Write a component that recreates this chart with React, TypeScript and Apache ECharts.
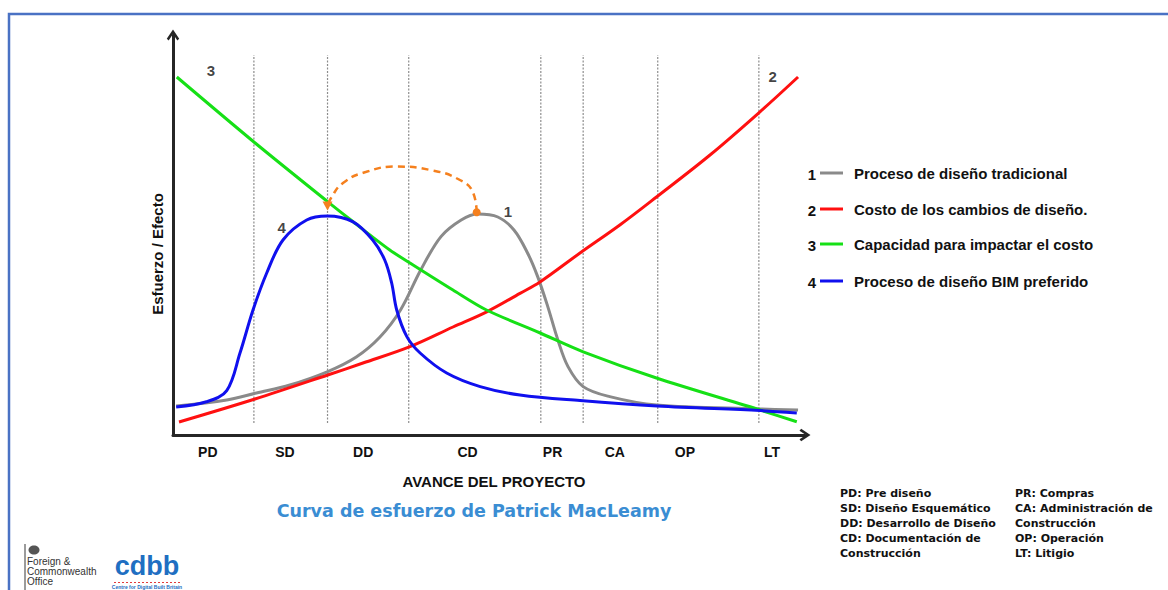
import React, { useEffect, useRef } from "react";
import * as echarts from "echarts";

// ---- Data (x: project progress 0-100, y: effort/effect 0-100) ----
const phaseLabels = ["PD", "SD", "DD", "CD", "PR", "CA", "OP", "LT"];
const phaseCenters = [5.5, 17.7, 30.1, 46.6, 60.05, 69.9, 81.0, 94.8];
const phaseBoundaries = [12.8, 24.45, 37.3, 58.2, 64.9, 76.7, 92.7];

const traditional: [number, number][] = [
  [0.5, 7.25], [8.5, 8.75], [13.2, 10.5], [18.5, 12.5], [24.4, 15.8], [29.0, 19.5],
  [32.75, 24.5], [36.0, 31.25], [39.2, 41.25], [42.4, 49.6], [45.6, 53.75], [48.2, 55.25],
  [51.4, 54.5], [53.95, 51.25], [56.1, 45.5], [57.7, 39.6], [59.3, 32.1], [60.9, 23.75],
  [62.5, 17.1], [64.9, 12.1], [69.1, 9.6], [76.5, 7.5], [92.9, 6.5], [98.9, 6.25],
];
const changeCost: [number, number][] = [
  [0.95, 3.25], [12.97, 9.0], [24.48, 15.0], [30.06, 18.0], [37.5, 22.1], [44.3, 27.0],
  [49.64, 30.8], [54.9, 35.4], [58.07, 38.25], [64.4, 45.5], [70.7, 52.5], [76.5, 59.5],
  [84.97, 70.0], [92.88, 80.8], [98.9, 89.5],
];
const costImpact: [number, number][] = [
  [0.6, 89.5], [13.0, 73.0], [24.5, 58.3], [28.5, 53.3], [34.3, 46.25], [37.5, 43.0],
  [44.3, 36.25], [49.6, 31.25], [58.1, 25.5], [64.9, 20.8], [76.5, 14.25],
  [92.9, 6.25], [98.7, 3.3],
];
const bimPreferred: [number, number][] = [
  [0.5, 7.0], [5.3, 8.3], [8.5, 11.1], [10.6, 20.5], [12.66, 31.25], [14.83, 40.5],
  [17.4, 48.75], [21.15, 53.75], [24.4, 54.75], [28.5, 53.3], [31.6, 48.75], [33.5, 43.75],
  [34.6, 38.0], [35.4, 31.25], [37.0, 24.6], [39.1, 20.5], [43.3, 15.5], [48.6, 12.1],
  [54.9, 10.0], [64.4, 8.6], [76.6, 7.25], [92.9, 6.1], [98.7, 5.5],
];
const effortShift: [number, number][] = [
  [48.05, 55.7], [47.5, 60.5], [45.4, 63.75], [40.7, 66.25], [35.4, 67.1], [30.6, 65.8],
  [26.9, 63.0], [25.0, 59.25], [24.45, 57.25],
];

const legendNames = [
  "Proceso de diseño tradicional",
  "Costo de los cambios de diseño.",
  "Capacidad para impactar el costo",
  "Proceso de diseño BIM preferido",
];
const curveTags = ["1", "2", "3", "4"];
const tagAnchors: [number, number][] = [[53.0, 55.8], [94.9, 89.6], [6.0, 91.25], [17.2, 51.9]];

const abbrevLeft = [
  "PD: Pre diseño",
  "SD: Diseño Esquemático",
  "DD: Desarrollo de Diseño",
  "CD: Documentación de",
  "Construcción",
];
const abbrevRight = [
  "PR: Compras",
  "CA: Administración de",
  "Construcción",
  "OP: Operación",
  "LT: Litigio",
];

const colors = ["#8a8a8a", "#ff1010", "#16e016", "#1010ee"];
const ARIAL = "'Liberation Sans', Arial, sans-serif";
const chevron = "path://M0 9L6 0L12 9L10.2 10.6L6 4.4L1.8 10.6Z";

export default function App() {
  const ref = useRef<HTMLDivElement>(null);
  useEffect(() => {
    if (!ref.current) return;
    const chart = echarts.init(ref.current, null, { renderer: "svg" });

    const curves = [traditional, changeCost, costImpact, bimPreferred];
    const curveSeries = curves.map((d, i) => ({
      type: "line",
      name: legendNames[i],
      data: d,
      smooth: i === 2 ? 0.3 : 0.35,
      symbol: "none",
      lineStyle: { color: colors[i], width: 3 },
      z: 3 + i,
      silent: true,
    }));

    const guideSeries = phaseBoundaries.map((b) => ({
      type: "line",
      data: [[b, 3], [b, 95]],
      symbol: "none",
      lineStyle: { color: "#8c8c8c", width: 1.2, type: [2, 1.5] },
      z: 1,
      silent: true,
    }));

    const last = effortShift.length - 1;
    const arcSeries = {
      type: "line",
      data: effortShift.map((p, i) =>
        i === 0
          ? { value: p, symbol: "circle", symbolSize: 8 }
          : i === last
          ? { value: p, symbol: "triangle", symbolSize: [10, 9], symbolRotate: 180 }
          : { value: p, symbol: "none" }
      ),
      smooth: 0.5,
      showSymbol: true,
      symbol: "none",
      itemStyle: { color: "#f5801e" },
      lineStyle: { color: "#f5801e", width: 2.5, type: [7, 5] },
      z: 10,
      silent: true,
    };

    const tagSeries = {
      type: "scatter",
      data: tagAnchors.map((p, i) => [p[0], p[1], curveTags[i]]),
      symbolSize: 1,
      itemStyle: { color: "rgba(0,0,0,0)" },
      label: {
        show: true,
        position: "inside",
        formatter: (p: any) => p.value[2],
        fontFamily: ARIAL,
        fontWeight: "bold",
        fontSize: 15,
        color: "#111",
      },
      z: 12,
      silent: true,
    };

    const legendRowsY = [173, 209, 244, 281];
    const legendGraphics: any[] = [];
    legendNames.forEach((n, i) => {
      const y = legendRowsY[i];
      legendGraphics.push({
        type: "text",
        x: 812,
        y: y + 1.5,
        style: { text: curveTags[i], font: `bold 15px ${ARIAL}`, fill: "#111", textAlign: "center", textVerticalAlign: "middle" },
      });
      legendGraphics.push({
        type: "line",
        shape: { x1: 820, y1: y, x2: 843, y2: y },
        style: { stroke: colors[i], lineWidth: 3 },
      });
      legendGraphics.push({
        type: "text",
        x: 854,
        y: y,
        style: { text: n, font: `bold 15px ${ARIAL}`, fill: "#111", textAlign: "left", textVerticalAlign: "middle" },
      });
    });

    const option: any = {
      animation: false,
      backgroundColor: "#ffffff",
      grid: { left: 173, right: 363, top: 35, bottom: 155, containLabel: false },
      xAxis: {
        type: "value",
        min: 0,
        max: 100,
        splitLine: { show: false },
        axisTick: { show: false },
        axisLine: {
          show: true,
          onZero: false,
          lineStyle: { color: "#262626", width: 3 },
          symbol: ["none", chevron],
          symbolSize: [13, 11],
        },
        axisLabel: {
          show: true,
          customValues: phaseCenters,
          margin: 10,
          fontFamily: ARIAL,
          fontWeight: "bold",
          fontSize: 14,
          color: "#111",
          formatter: (v: number) => {
            const i = phaseCenters.findIndex((c) => Math.abs(c - v) < 0.01);
            return i >= 0 ? phaseLabels[i] : "";
          },
        },
      },
      yAxis: {
        type: "value",
        min: 0,
        max: 100,
        splitLine: { show: false },
        axisTick: { show: false },
        axisLabel: { show: false },
        axisLine: {
          show: true,
          onZero: false,
          lineStyle: { color: "#262626", width: 3 },
          symbol: ["none", chevron],
          symbolSize: [13, 11],
        },
      },
      series: [...guideSeries, ...curveSeries, arcSeries, tagSeries],
      graphic: [
        {
          type: "rect",
          shape: { x: 9, y: 14, width: 1200, height: 700 },
          style: { fill: "none", stroke: "#4a72c4", lineWidth: 2.5 },
          silent: true,
        },
        {
          type: "text",
          x: 157,
          y: 254,
          rotation: Math.PI / 2,
          style: { text: "Esfuerzo / Efecto", font: `bold 15px ${ARIAL}`, fill: "#111", textAlign: "center", textVerticalAlign: "middle" },
        },
        {
          type: "text",
          x: 494,
          y: 481,
          style: { text: "AVANCE DEL PROYECTO", font: `bold 15px ${ARIAL}`, fill: "#111", textAlign: "center", textVerticalAlign: "middle" },
        },
        ...legendGraphics,
        {
          type: "text",
          x: 474,
          y: 511,
          style: {
            text: "Curva de esfuerzo de Patrick MacLeamy",
            font: "bold 17.5px 'DejaVu Sans', Verdana, sans-serif",
            fill: "#3a8dd3",
            textAlign: "center",
            textVerticalAlign: "middle",
          },
        },
        {
          type: "text",
          x: 840,
          y: 486,
          style: {
            text: abbrevLeft.join("\n"),
            font: "bold 11px 'DejaVu Sans', Tahoma, sans-serif",
            lineHeight: 15,
            fill: "#111",
            textAlign: "left",
            textVerticalAlign: "top",
          },
        },
        {
          type: "text",
          x: 1015,
          y: 486,
          style: {
            text: abbrevRight.join("\n"),
            font: "bold 11px 'DejaVu Sans', Tahoma, sans-serif",
            lineHeight: 15,
            fill: "#111",
            textAlign: "left",
            textVerticalAlign: "top",
          },
        },
        // Logos
        {
          type: "line",
          shape: { x1: 25, y1: 544, x2: 25, y2: 590 },
          style: { stroke: "#7a7a7a", lineWidth: 1.5 },
        },
        {
          type: "ellipse",
          shape: { cx: 34, cy: 550, rx: 5.5, ry: 4.5 },
          style: { fill: "#555" },
        },
        {
          type: "text",
          x: 27,
          y: 556,
          style: {
            text: "Foreign &\nCommonwealth\nOffice",
            font: `10px ${ARIAL}`,
            lineHeight: 10,
            fill: "#333",
            textAlign: "left",
            textVerticalAlign: "top",
          },
        },
        {
          type: "text",
          x: 147,
          y: 566,
          style: {
            text: "cdbb",
            font: `bold 27px ${ARIAL}`,
            fill: "#1f6fc2",
            textAlign: "center",
            textVerticalAlign: "middle",
          },
        },
        {
          type: "line",
          shape: { x1: 114, y1: 582.5, x2: 181, y2: 582.5 },
          style: { stroke: "#e23a3a", lineWidth: 1, lineDash: [2, 2] },
        },
        {
          type: "text",
          x: 147,
          y: 587,
          style: {
            text: "Centre for Digital Built Britain",
            font: `bold 5px ${ARIAL}`,
            fill: "#1f6fc2",
            textAlign: "center",
            textVerticalAlign: "middle",
          },
        },
      ],
    };

    chart.setOption(option);
    return () => chart.dispose();
  }, []);

  return (
    <div
      ref={ref}
      style={{ position: "fixed", left: 0, top: 0, width: 1168, height: 590, background: "#fff" }}
    />
  );
}
